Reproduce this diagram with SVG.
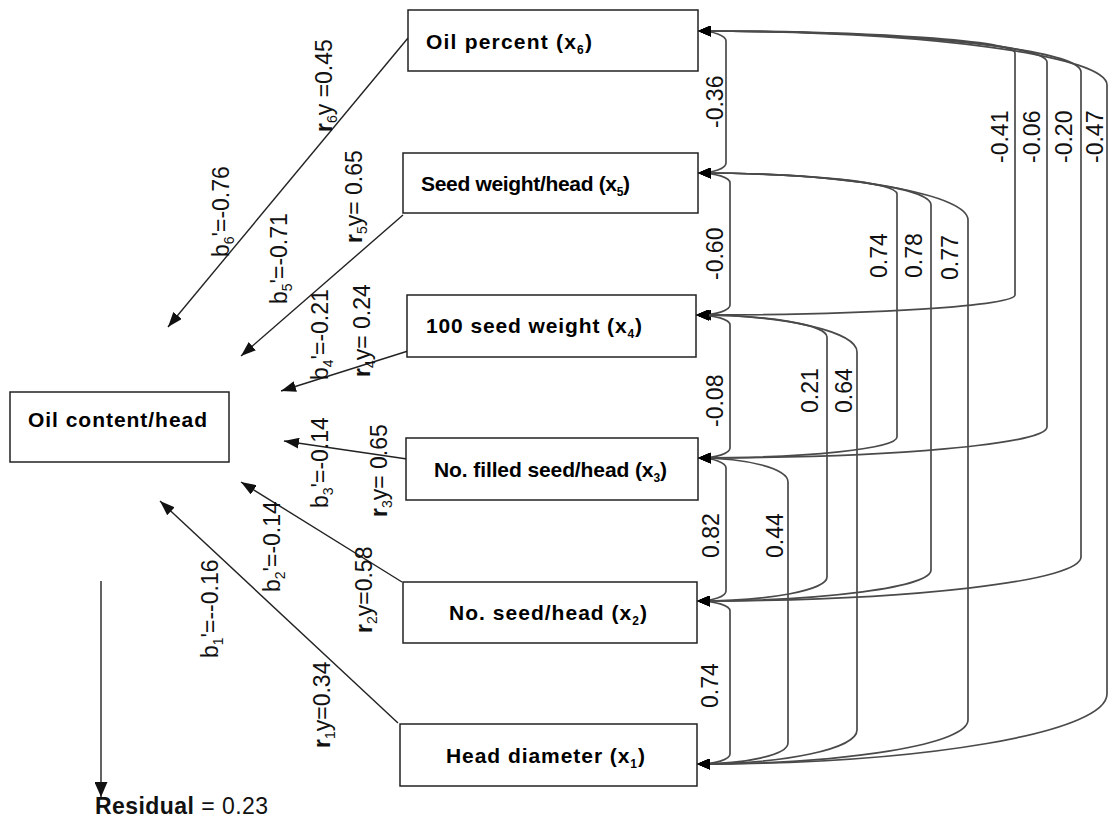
<svg xmlns="http://www.w3.org/2000/svg" width="1109" height="819" viewBox="0 0 1109 819">
<style>
.box{fill:#fff;stroke:#222;stroke-width:1.5}
.bt{font-family:"Liberation Sans",Arial,sans-serif;font-weight:bold;font-size:21px;fill:#000}
.bs{font-size:12px}
.lbl{font-family:"Liberation Sans",Arial,sans-serif;font-size:23px;fill:#111}
.s{font-size:14px}
.pa{fill:none;stroke:#222;stroke-width:1.4}
.cr{fill:none;stroke:#4a4a4a;stroke-width:1.7}
</style>
<defs>
<marker id="ah" markerUnits="userSpaceOnUse" markerWidth="15" markerHeight="11" refX="15" refY="5.5" orient="auto">
<path d="M0,0 L15,5.5 L0,11 z" fill="#111"/>
</marker>
<marker id="rh" markerUnits="userSpaceOnUse" markerWidth="15" markerHeight="13" refX="15" refY="6.5" orient="auto">
<path d="M0,0 L15,6.5 L0,13 z" fill="#111"/>
</marker>
<marker id="ch" markerUnits="userSpaceOnUse" markerWidth="13" markerHeight="11" refX="13" refY="5.5" orient="auto-start-reverse">
<path d="M0,0 L13,5.5 L0,11 z" fill="#000"/>
</marker>
</defs>
<rect width="1109" height="819" fill="#fff"/>

<g id="connectors">
<path class="pa" marker-end="url(#ah)" d="M408,38 L168,327"/>
<path class="pa" marker-end="url(#ah)" d="M403,215 L241,356"/>
<path class="pa" marker-end="url(#ah)" d="M408,351 L281,391"/>
<path class="pa" marker-end="url(#ah)" d="M407,459 L284,441"/>
<path class="pa" marker-end="url(#ah)" d="M402,582 L241,482"/>
<path class="pa" marker-end="url(#ah)" d="M398,723 L160,501"/>
<path class="pa" marker-end="url(#rh)" d="M101,581 L101,797"/>

<path class="cr" marker-start="url(#ch)" marker-end="url(#ch)" d="M698,31 A28,10 0 0 1 726,41 V163 A28,10 0 0 1 698,173"/>
<path class="cr" marker-start="url(#ch)" marker-end="url(#ch)" d="M698,173 A32,10 0 0 1 730,183 V305 A32,10 0 0 1 698,315"/>
<path class="cr" marker-start="url(#ch)" marker-end="url(#ch)" d="M696,315 A34,10 0 0 1 730,325 V448 A32,10 0 0 1 698,458"/>
<path class="cr" marker-start="url(#ch)" marker-end="url(#ch)" d="M698,458 A28,10 0 0 1 726,468 V591 A29,10 0 0 1 697,601"/>
<path class="cr" marker-start="url(#ch)" marker-end="url(#ch)" d="M697,601 A33,10 0 0 1 730,611 V754 A33,10 0 0 1 697,764"/>

<path class="cr" marker-start="url(#ch)" marker-end="url(#ch)" d="M698,31 A317,22 0 0 1 1015,53 V295 A319,20 0 0 1 696,315"/>
<path class="cr" marker-start="url(#ch)" marker-end="url(#ch)" d="M698,31 A349,31 0 0 1 1047,62 V427 A349,31 0 0 1 698,458"/>
<path class="cr" marker-start="url(#ch)" marker-end="url(#ch)" d="M698,31 A383,41 0 0 1 1081,72 V557 A384,44 0 0 1 697,601"/>
<path class="cr" marker-start="url(#ch)" marker-end="url(#ch)" d="M698,31 A409,54 0 0 1 1107,85 V694 A410,70 0 0 1 697,764"/>

<path class="cr" marker-start="url(#ch)" marker-end="url(#ch)" d="M698,173 A199,21 0 0 1 897,194 V437 A199,21 0 0 1 698,458"/>
<path class="cr" marker-start="url(#ch)" marker-end="url(#ch)" d="M698,173 A233,32 0 0 1 931,205 V570 A234,31 0 0 1 697,601"/>
<path class="cr" marker-start="url(#ch)" marker-end="url(#ch)" d="M698,173 A270,47 0 0 1 968,220 V720 A271,44 0 0 1 697,764"/>

<path class="cr" marker-start="url(#ch)" marker-end="url(#ch)" d="M696,315 A131,22 0 0 1 827,337 V577 A130,24 0 0 1 697,601"/>
<path class="cr" marker-start="url(#ch)" marker-end="url(#ch)" d="M696,315 A161,37 0 0 1 857,352 V730 A160,34 0 0 1 697,764"/>

<path class="cr" marker-start="url(#ch)" marker-end="url(#ch)" d="M698,458 A90,24 0 0 1 788,482 V743 A91,21 0 0 1 697,764"/>
</g>

<g id="edge-labels">
<text class="lbl" transform="translate(332,132) rotate(-90)"><tspan font-weight="bold">r</tspan><tspan class="s" dy="5">6</tspan><tspan dy="-5">y =0.45</tspan></text>
<text class="lbl" transform="translate(229,257) rotate(-90)">b<tspan class="s" dy="5">6</tspan><tspan dy="-5">'=-0.76</tspan></text>
<text class="lbl" transform="translate(287,304) rotate(-90)">b<tspan class="s" dy="5">5</tspan><tspan dy="-5">'=-0.71</tspan></text>
<text class="lbl" transform="translate(362,243) rotate(-90)"><tspan font-weight="bold">r</tspan><tspan class="s" dy="5">5</tspan><tspan dy="-5">y= 0.65</tspan></text>
<text class="lbl" transform="translate(370,377) rotate(-90)"><tspan font-weight="bold">r</tspan><tspan class="s" dy="5">4</tspan><tspan dy="-5">y= 0.24</tspan></text>
<text class="lbl" transform="translate(328,380) rotate(-90)">b<tspan class="s" dy="5">4</tspan><tspan dy="-5">'=-0.21</tspan></text>
<text class="lbl" transform="translate(328,508) rotate(-90)">b<tspan class="s" dy="5">3</tspan><tspan dy="-5">'=-0.14</tspan></text>
<text class="lbl" transform="translate(387,517) rotate(-90)"><tspan font-weight="bold">r</tspan><tspan class="s" dy="5">3</tspan><tspan dy="-5">y= 0.65</tspan></text>
<text class="lbl" transform="translate(280,592) rotate(-90)">b<tspan class="s" dy="5">2</tspan><tspan dy="-5">'=-0.14</tspan></text>
<text class="lbl" transform="translate(372,633) rotate(-90)"><tspan font-weight="bold">r</tspan><tspan class="s" dy="5">2</tspan><tspan dy="-5">y=0.58</tspan></text>
<text class="lbl" transform="translate(218,658) rotate(-90)">b<tspan class="s" dy="5">1</tspan><tspan dy="-5">'=--0.16</tspan></text>
<text class="lbl" transform="translate(330,748) rotate(-90)"><tspan font-weight="bold">r</tspan><tspan class="s" dy="5">1</tspan><tspan dy="-5">y=0.34</tspan></text>

<text class="lbl" transform="translate(723,128) rotate(-90)">-0.36</text>
<text class="lbl" transform="translate(723,280) rotate(-90)">-0.60</text>
<text class="lbl" transform="translate(723,427) rotate(-90)">-0.08</text>
<text class="lbl" transform="translate(719,558) rotate(-90)">0.82</text>
<text class="lbl" transform="translate(718,708) rotate(-90)">0.74</text>
<text class="lbl" transform="translate(783,558) rotate(-90)">0.44</text>
<text class="lbl" transform="translate(818,413) rotate(-90)">0.21</text>
<text class="lbl" transform="translate(852,413) rotate(-90)">0.64</text>
<text class="lbl" transform="translate(887,278) rotate(-90)">0.74</text>
<text class="lbl" transform="translate(922,278) rotate(-90)">0.78</text>
<text class="lbl" transform="translate(958,280) rotate(-90)">0.77</text>
<text class="lbl" transform="translate(1008,163) rotate(-90)">-0.41</text>
<text class="lbl" transform="translate(1040,163) rotate(-90)">-0.06</text>
<text class="lbl" transform="translate(1072,163) rotate(-90)">-0.20</text>
<text class="lbl" transform="translate(1103,163) rotate(-90)">-0.47</text>
</g>

<g id="node-x6">
<rect class="box" x="408" y="10" width="290" height="61"/>
<text class="bt" x="426" y="49" textLength="166" lengthAdjust="spacing">Oil percent (x<tspan class="bs" dy="5">6</tspan><tspan dy="-5">)</tspan></text>
</g>
<g id="node-x5">
<rect class="box" x="403" y="153" width="295" height="60"/>
<text class="bt" x="421" y="191" textLength="209" lengthAdjust="spacing">Seed weight/head (x<tspan class="bs" dy="5">5</tspan><tspan dy="-5">)</tspan></text>
</g>
<g id="node-x4">
<rect class="box" x="407" y="295" width="289" height="62"/>
<text class="bt" x="426" y="333" textLength="216" lengthAdjust="spacing">100 seed weight (x<tspan class="bs" dy="5">4</tspan><tspan dy="-5">)</tspan></text>
</g>
<g id="node-x3">
<rect class="box" x="406" y="438" width="292" height="62"/>
<text class="bt" x="434" y="477" textLength="233" lengthAdjust="spacing">No. filled seed/head (x<tspan class="bs" dy="5">3</tspan><tspan dy="-5">)</tspan></text>
</g>
<g id="node-x2">
<rect class="box" x="403" y="582" width="294" height="61"/>
<text class="bt" x="449" y="620" textLength="198" lengthAdjust="spacing">No. seed/head (x<tspan class="bs" dy="5">2</tspan><tspan dy="-5">)</tspan></text>
</g>
<g id="node-x1">
<rect class="box" x="400" y="724" width="297" height="62"/>
<text class="bt" x="446" y="763" textLength="199" lengthAdjust="spacing">Head diameter (x<tspan class="bs" dy="5">1</tspan><tspan dy="-5">)</tspan></text>
</g>
<g id="node-y">
<rect class="box" x="10" y="392" width="219" height="70"/>
<text class="bt" x="28" y="427" textLength="179" lengthAdjust="spacing">Oil content/head</text>
</g>
<g id="residual">
<text class="lbl" x="95" y="814" font-size="18" textLength="173" lengthAdjust="spacing"><tspan font-weight="bold">Residual</tspan> = 0.23</text>
</g>
</svg>
